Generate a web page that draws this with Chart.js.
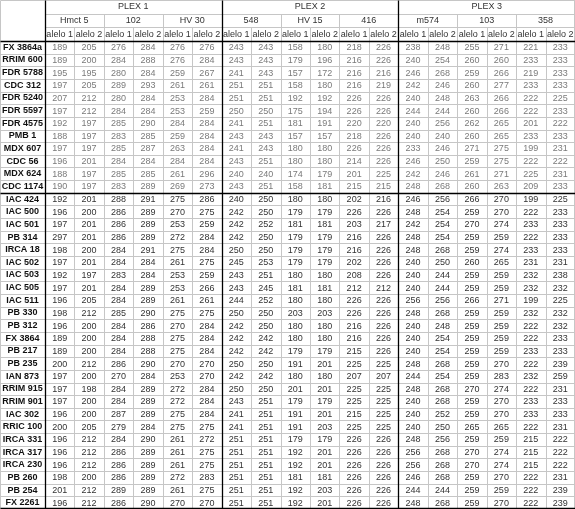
<!DOCTYPE html>
<html>
<head>
<meta charset="utf-8">
<script src="https://cdn.jsdelivr.net/npm/chart.js@4"></script>
<style>
  body { margin: 0; background: #fff; }
</style>
</head>
<body>
<canvas id="tbl" width="575" height="509"></canvas>
<script>
const plexes = ["PLEX 1", "PLEX 2", "PLEX 3"];
const markers = ["Hmct 5", "102", "HV 30", "548", "HV 15", "416", "m574", "103", "358"];
const alleles = ["alelo 1", "alelo 2"];

const clones = ["FX 3864a", "RRIM 600", "FDR 5788", "CDC 312", "FDR 5240", "FDR 5597", "FDR 4575",
  "PMB 1", "MDX 607", "CDC 56", "MDX 624", "CDC 1174",
  "IAC 424", "IAC 500", "IAC 501", "PB 314", "IRCA 18", "IAC 502", "IAC 503", "IAC 505", "IAC 511",
  "PB 330", "PB 312", "FX 3864", "PB 217", "PB 235", "IAN 873", "RRIM 915", "RRIM 901", "IAC 302",
  "RRIC 100", "IRCA 331", "IRCA 317", "IRCA 230", "PB 260", "PB 254", "FX 2261"];

const values = [
  [189,205,276,284,276,276, 243,243,158,180,218,226, 238,248,255,271,221,233],
  [189,200,284,288,276,284, 243,243,179,196,216,226, 240,254,260,260,233,233],
  [195,195,280,284,259,267, 241,243,157,172,216,216, 246,268,259,266,219,233],
  [197,205,289,293,261,261, 251,251,158,180,216,219, 242,246,260,277,233,233],
  [207,212,280,284,253,284, 251,251,192,192,226,226, 240,248,263,266,222,225],
  [197,212,284,284,253,259, 250,250,175,194,226,226, 244,244,260,266,222,233],
  [192,197,285,290,284,284, 241,251,181,191,220,220, 240,256,262,265,201,222],
  [188,197,283,285,259,284, 243,243,157,157,218,226, 240,240,260,265,233,233],
  [197,197,285,287,263,284, 241,243,180,180,226,226, 233,246,271,275,199,231],
  [196,201,284,284,284,284, 243,251,180,180,214,226, 246,250,259,275,222,222],
  [188,197,285,285,261,296, 240,240,174,179,201,225, 242,246,261,271,225,231],
  [190,197,283,289,269,273, 243,251,158,181,215,215, 248,268,260,263,209,233],
  [192,201,288,291,275,286, 240,250,180,180,202,216, 246,256,266,270,199,225],
  [196,200,286,289,270,275, 242,250,179,179,226,226, 248,254,259,270,222,233],
  [197,201,286,289,253,259, 242,252,181,181,203,217, 242,254,270,274,233,233],
  [297,201,286,289,272,284, 242,250,179,179,216,226, 248,254,259,259,222,233],
  [198,200,284,291,275,284, 250,250,179,179,216,226, 248,268,259,274,233,233],
  [197,201,284,284,261,275, 245,253,179,179,202,226, 240,250,260,265,231,231],
  [192,197,283,284,253,259, 243,251,180,180,208,226, 240,244,259,259,232,238],
  [197,201,284,289,253,266, 243,245,181,181,212,212, 240,244,259,259,232,232],
  [196,205,284,289,261,261, 244,252,180,180,226,226, 256,256,266,271,199,225],
  [198,212,285,290,275,275, 250,250,203,203,226,226, 248,268,259,259,232,232],
  [196,200,284,286,270,284, 242,250,180,180,216,226, 240,248,259,259,222,232],
  [189,200,284,288,275,284, 242,242,180,180,216,226, 240,254,259,259,222,233],
  [189,200,284,288,275,284, 242,242,179,179,215,226, 240,254,259,259,233,233],
  [200,212,286,290,270,270, 250,250,191,201,225,225, 248,268,259,270,222,239],
  [197,200,270,284,253,270, 242,242,180,180,207,207, 244,254,259,283,232,259],
  [197,198,284,289,272,284, 250,250,201,201,225,225, 248,268,270,274,222,231],
  [197,200,284,289,272,284, 243,251,179,179,225,225, 240,268,259,270,233,233],
  [196,200,287,289,275,284, 241,251,191,201,215,225, 240,252,259,270,233,233],
  [200,205,279,284,275,275, 241,251,191,203,225,225, 240,250,265,265,222,231],
  [196,212,284,290,261,272, 251,251,179,179,226,226, 248,256,259,259,215,222],
  [196,212,286,289,261,275, 251,251,192,201,226,226, 256,268,270,274,215,222],
  [196,212,286,289,261,275, 251,251,192,201,226,226, 256,268,270,274,215,222],
  [198,200,286,289,272,283, 251,251,181,181,226,226, 246,268,259,270,222,231],
  [201,212,289,289,261,275, 251,251,192,203,226,226, 244,244,259,259,222,239],
  [196,212,286,290,270,270, 251,251,192,201,226,226, 248,268,259,270,222,239]
];

const refBlock = 12; // first 12 rows are the reference clones
const nameW = 1.525;  // name column width in column units
const headH = 1.08;   // header row height in row units
const nCols = 18;

const font = "'Liberation Sans Narrow', 'Liberation Sans', sans-serif";

// one point per cell, text drawn at the point position
const cells = [];
values.forEach(function (row, r) {
  row.forEach(function (v, c) {
    cells.push({ x: c + 0.5, y: r + 0.5, v: v, r: r });
  });
});

const tablePlugin = {
  id: "table",
  afterDatasetsDraw: function (chart) {
    const ctx = chart.ctx;
    const xs = chart.scales.x, ys = chart.scales.y;
    const X = function (v) { return xs.getPixelForValue(v); };
    const Y = function (v) { return ys.getPixelForValue(v); };
    const top = -3 * headH, nRows = clones.length;

    function line(x1, y1, x2, y2, color, w) {
      ctx.strokeStyle = color; ctx.lineWidth = w;
      ctx.beginPath(); ctx.moveTo(Math.round(x1) + 0.5, Math.round(y1) + 0.5);
      ctx.lineTo(Math.round(x2) + 0.5, Math.round(y2) + 0.5); ctx.stroke();
    }
    const grey = "#c6c6c6";
    ctx.save();
    // horizontal lines
    for (let r = 0; r <= nRows; r++) line(X(-nameW), Y(r), X(nCols), Y(r), grey, 1);
    line(X(-nameW), Y(top), X(nCols), Y(top), grey, 1);
    line(X(0), Y(-2 * headH), X(nCols), Y(-2 * headH), grey, 1);
    line(X(0), Y(-headH), X(nCols), Y(-headH), grey, 1);
    // vertical lines
    for (let c = 1; c < nCols; c++) {
      let y0 = c % 6 === 0 ? top : (c % 2 === 0 ? -2 * headH : -headH);
      line(X(c), Y(y0), X(c), Y(nRows), grey, 1);
    }
    line(X(-nameW), Y(top), X(-nameW), Y(nRows), grey, 1);
    line(X(nCols) - 1, Y(top), X(nCols) - 1, Y(nRows), grey, 1);
    // black borders
    [0, 6, 12].forEach(function (c) { line(X(c), Y(top), X(c), Y(nRows), "#000", 1.3); });
    line(X(-nameW), Y(0), X(nCols), Y(0), "#000", 1.3);
    line(X(-nameW), Y(refBlock), X(nCols), Y(refBlock), "#000", 1.3);
    line(X(-nameW), Y(nRows) - 1, X(nCols), Y(nRows) - 1, "#000", 1.3);

    ctx.textAlign = "center"; ctx.textBaseline = "middle";
    ctx.fillStyle = "#333";
    ctx.font = "9px " + font;
    plexes.forEach(function (p, i) { ctx.fillText(p, X(i * 6 + 3), Y(-2.5 * headH)); });
    markers.forEach(function (m, i) { ctx.fillText(m, X(i * 2 + 1), Y(-1.5 * headH)); });
    for (let c = 0; c < nCols; c++) ctx.fillText(alleles[c % 2], X(c + 0.5), Y(-0.5 * headH));

    ctx.font = "bold 9px " + font; ctx.fillStyle = "#111";
    clones.forEach(function (n, r) { ctx.fillText(n, X(-nameW / 2), Y(r + 0.5)); });

    const meta = chart.getDatasetMeta(0);
    meta.data.forEach(function (pt, i) {
      const d = cells[i];
      ctx.font = "9px " + font;
      ctx.fillStyle = d.r < refBlock ? "#7a7a7a" : "#333";
      ctx.fillText(String(d.v), pt.x, pt.y + 0.5);
    });
    ctx.restore();
  }
};

new Chart(document.getElementById("tbl").getContext("2d"), {
  type: "scatter",
  data: { datasets: [{ data: cells, pointRadius: 0, pointHoverRadius: 0 }] },
  options: {
    responsive: false,
    animation: false,
    events: [],
    layout: { padding: 0 },
    plugins: { legend: { display: false }, tooltip: { enabled: false } },
    scales: {
      x: { type: "linear", display: false, min: -nameW, max: nCols },
      y: { type: "linear", display: false, reverse: true, min: -3 * headH, max: clones.length }
    }
  },
  plugins: [tablePlugin]
});
</script>
</body>
</html>
